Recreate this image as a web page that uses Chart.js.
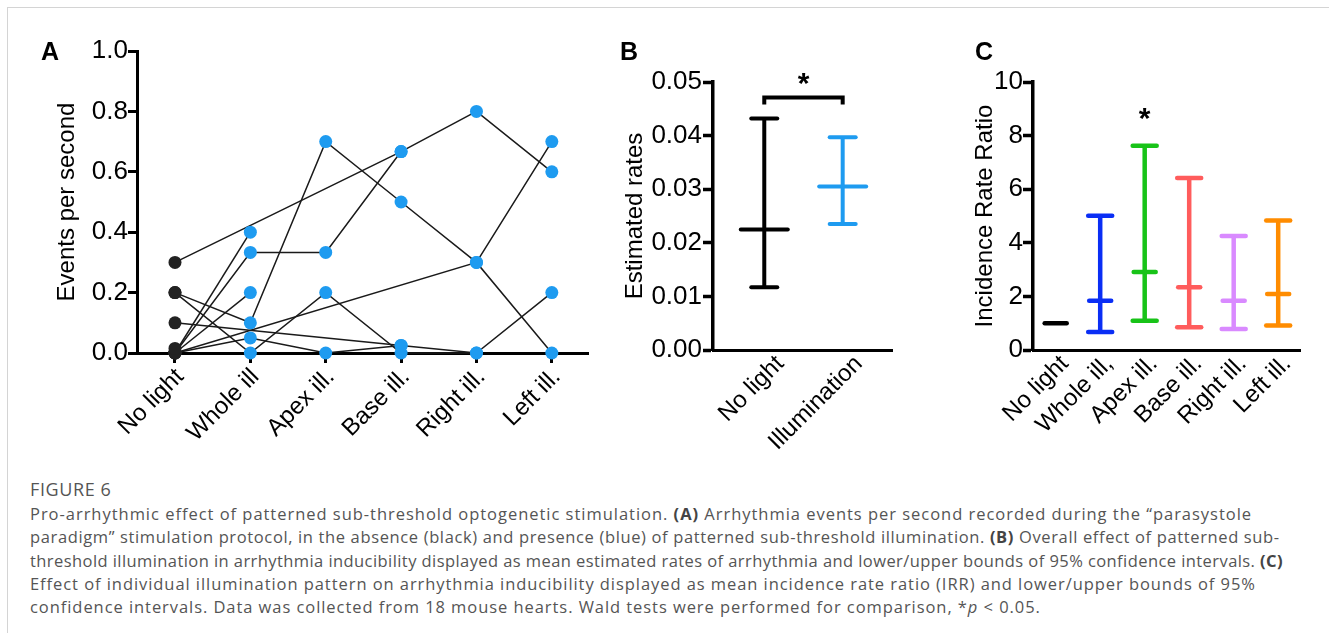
<!DOCTYPE html>
<html>
<head>
<meta charset="utf-8">
<script src="https://cdn.jsdelivr.net/npm/chart.js@4.4.1/dist/chart.umd.min.js"></script>
<style>
body { margin: 0; background: #fff; width: 1329px; height: 633px; overflow: hidden; position: relative; font-family: "Liberation Sans", Arial, sans-serif; }
.frame { position: absolute; left: 7px; top: 7px; right: 0; bottom: 0; border-left: 1px solid #d4d4d4; border-top: 1px solid #d4d4d4; }
canvas { position: absolute; top: 0; }
.letter { position: absolute; top: 37px; font-weight: bold; font-size: 25px; color: #000; }
.fig { position: absolute; left: 30px; top: 477px; font-family: "Open Sans", sans-serif; font-size: 18px; color: #555; letter-spacing: 0.6px; }
.cap { position: absolute; left: 30px; font-family: "Open Sans", sans-serif; font-size: 16.5px; color: #555; white-space: nowrap; }
.cap b { color: #444; }
</style>
</head>
<body>
<div class="frame"></div>
<canvas id="pa" width="620" height="450" style="left:0"></canvas>
<canvas id="pb" width="330" height="450" style="left:600px"></canvas>
<canvas id="pc" width="399" height="450" style="left:930px"></canvas>
<div class="letter" style="left:41px">A</div>
<div class="letter" style="left:620px">B</div>
<div class="letter" style="left:975px">C</div>

<div class="fig">FIGURE 6</div>
<div class="cap" data-w="1222" style="top:502px">Pro-arrhythmic effect of patterned sub-threshold optogenetic stimulation. <b>(A)</b> Arrhythmia events per second recorded during the “parasystole</div>
<div class="cap" data-w="1250" style="top:525px">paradigm” stimulation protocol, in the absence (black) and presence (blue) of patterned sub-threshold illumination. <b>(B)</b> Overall effect of patterned sub-</div>
<div class="cap" data-w="1253" style="top:549px">threshold illumination in arrhythmia inducibility displayed as mean estimated rates of arrhythmia and lower/upper bounds of 95% confidence intervals. <b>(C)</b></div>
<div class="cap" data-w="1226" style="top:572px">Effect of individual illumination pattern on arrhythmia inducibility displayed as mean incidence rate ratio (IRR) and lower/upper bounds of 95%</div>
<div class="cap" data-w="0" style="top:595px">confidence intervals. Data was collected from 18 mouse hearts. Wald tests were performed for comparison, *<i>p</i> &lt; 0.05.</div>

<script>
// panel A: events per second, one row per heart (null = pattern not shown for that heart)
const aCats = ['No light', 'Whole ill', 'Apex ill.', 'Base ill.', 'Right ill.', 'Left ill.'];
const aHearts = [
    [0.3, null, null, 0.667, 0.8, 0.6],
    [0, 0.333, 0.333, 0.667, null, null],
    [0.2, 0.1, 0.7, 0.5, 0.3, 0],
    [0, null, null, null, 0.3, 0.7],
    [0, 0.4, null, null, null, null],
    [0, 0.2, null, null, null, null],
    [0.2, 0, 0.2, 0, 0, null],
    [0.1, null, null, 0.025, null, null],
    [0, 0.05, 0, 0.025, 0, 0.2],
    [0.015, null, null, null, null, null]
];

// panel B: estimated rates, mean and 95% CI
const bCats = ['No light', 'Illumination'];
const bMean = [0.0225, 0.0305];
const bLow = [0.0117, 0.0235];
const bHigh = [0.0432, 0.0397];
const bColors = ['#000000', '#1E9BF0'];
const bBracket = 0.0471;
const bStars = [{ x: 0.5, y: 0.0502 }];

// panel C: incidence rate ratio, mean and 95% CI
const cCats = ['No light', 'Whole ill,', 'Apex ill.', 'Base ill.', 'Right ill.', 'Left ill.'];
const cMean = [1, 1.84, 2.91, 2.34, 1.84, 2.09];
const cLow = [null, 0.67, 1.09, 0.85, 0.78, 0.91];
const cHigh = [null, 5.01, 7.62, 6.42, 4.25, 4.83];
const cColors = ['#000000', '#0A2EF5', '#18C318', '#FF5C5C', '#D98AFF', '#FF8C00'];
const cStars = [{ x: 2, y: 8.73 }];

const FONT = '"Liberation Sans", Arial, sans-serif';
Chart.defaults.font.family = FONT;
Chart.defaults.color = '#000';

const starPlugin = {
    id: 'stars',
    beforeDatasetDraw(chart) {
        chart.ctx.lineCap = 'round';
    },
    afterDatasetsDraw(chart, args, opts) {
        if (!opts.marks) return;
        const ctx = chart.ctx;
        ctx.save();
        ctx.font = 'bold 30px ' + FONT;
        ctx.fillStyle = '#000';
        ctx.textAlign = 'center';
        ctx.textBaseline = 'alphabetic';
        opts.marks.forEach(m => {
            ctx.fillText('*', chart.scales.x.getPixelForValue(m.x), chart.scales.y.getPixelForValue(m.y) + 12);
        });
        ctx.restore();
    }
};

// x axis that shows category names on a linear scale
function catAxis(cats, min, max, height, tickLen, pad, shift) {
    return {
        type: 'linear', min: min, max: max,
        afterBuildTicks: s => { s.ticks = cats.map((c, i) => ({ value: i })); },
        afterFit: s => { s.height = height; },
        grid: { display: tickLen > 0, drawOnChartArea: false, drawTicks: tickLen > 0, tickLength: tickLen, tickWidth: 3, tickColor: '#000' },
        border: { display: true, color: '#000', width: 3 },
        ticks: { callback: v => cats[v], autoSkip: false, minRotation: 45, maxRotation: 45, color: '#000', font: { size: 24 }, padding: pad, labelOffset: shift }
    };
}

function valueAxis(min, max, step, digits, width, tickLen, pad, title, bw) {
    return {
        min: min, max: max,
        afterFit: s => { s.width = width; },
        grid: { drawOnChartArea: false, tickLength: tickLen, tickWidth: bw, tickColor: '#000' },
        border: { color: '#000', width: bw },
        ticks: { stepSize: step, callback: v => v.toFixed(digits), color: '#000', font: { size: 26 }, padding: pad },
        title: { display: true, text: title, color: '#000', font: { size: 24 }, padding: 0 }
    };
}

function errorBarSets(means, lows, highs, colors, capR, meanR, lw) {
    const sets = [];
    means.forEach((m, i) => {
        if (lows[i] !== null) {
            sets.push({
                data: [{ x: i, y: lows[i] }, { x: i, y: highs[i] }],
                showLine: true, borderColor: colors[i], borderWidth: lw, pointRadius: 0, clip: false
            });
            sets.push({
                data: [{ x: i, y: lows[i] }, { x: i, y: highs[i] }],
                pointStyle: 'line', pointRadius: capR, borderColor: colors[i], borderWidth: lw, clip: false
            });
        }
        sets.push({
            data: [{ x: i, y: m }],
            pointStyle: 'line', pointRadius: meanR, borderColor: colors[i], borderWidth: lw, clip: false
        });
    });
    return sets;
}

const baseOptions = {
    responsive: false, animation: false, devicePixelRatio: 1, events: [],
    plugins: { legend: { display: false }, tooltip: { enabled: false } }
};

// Panel A
const aLineSets = aHearts.map(h => ({
    data: h.map((v, i) => v === null ? null : { x: i, y: v }).filter(p => p),
    showLine: true, borderColor: '#1a1a1a', borderWidth: 1.5, pointRadius: 0, clip: false, order: 2
}));
const aBlack = {
    data: aHearts.map(h => ({ x: 0, y: h[0] })),
    pointRadius: 6.5, backgroundColor: '#222222', borderWidth: 0, clip: false, order: 0
};
const aBlue = {
    data: aHearts.flatMap(h => h.map((v, i) => (i > 0 && v !== null) ? { x: i, y: v } : null).filter(p => p)),
    pointRadius: 6.5, backgroundColor: '#1E9BF0', borderWidth: 0, clip: false, order: 1
};

new Chart(document.getElementById('pa'), {
    type: 'scatter',
    data: { datasets: [...aLineSets, aBlack, aBlue] },
    options: {
        ...baseOptions,
        layout: { padding: { left: 53, top: 51, right: 32, bottom: 0 } },
        scales: {
            x: catAxis(aCats, -0.504, 5.48, 97, 10, 0, 5),
            y: valueAxis(0, 1, 0.2, 1, 84, 9, 0, 'Events per second', 3)
        }
    },
    plugins: [starPlugin]
});

// Panel B
const bSets = errorBarSets(bMean, bLow, bHigh, bColors, 13, 23.5, 4);
bSets.push({
    data: [{ x: 0, y: bBracket - 0.0013 }, { x: 0, y: bBracket }, { x: 1, y: bBracket }, { x: 1, y: bBracket - 0.0013 }],
    showLine: true, borderColor: '#000', borderWidth: 4, pointRadius: 0, clip: false
});

new Chart(document.getElementById('pb'), {
    type: 'scatter',
    data: { datasets: bSets },
    options: {
        ...baseOptions,
        layout: { padding: { left: 21, top: 82, right: 38, bottom: 0 } },
        plugins: { ...baseOptions.plugins, stars: { marks: bStars } },
        scales: {
            x: catAxis(bCats, -0.654, 1.629, 100, 0, 0, 16),
            y: valueAxis(0, 0.05, 0.01, 2, 92, 10, 1, 'Estimated rates', 3.5)
        }
    },
    plugins: [starPlugin]
});

// Panel C
new Chart(document.getElementById('pc'), {
    type: 'scatter',
    data: { datasets: errorBarSets(cMean, cLow, cHigh, cColors, 12, 11, 4.5) },
    options: {
        ...baseOptions,
        layout: { padding: { left: 41, top: 82, right: 29, bottom: 0 } },
        plugins: { ...baseOptions.plugins, stars: { marks: cStars } },
        scales: {
            x: catAxis(cCats, -0.51, 5.49, 100, 0, 0, 9),
            y: valueAxis(0, 10, 2, 0, 62, 10, 0, 'Incidence Rate Ratio', 3.5)
        }
    },
    plugins: [starPlugin]
});

// stretch caption lines to the widths of the printed figure
let lastSpacing = 0;
document.querySelectorAll('.cap').forEach(el => {
    const target = +el.dataset.w;
    const n = el.textContent.length;
    if (target > 0) {
        lastSpacing = (target - el.scrollWidth) / n;
    }
    el.style.letterSpacing = lastSpacing.toFixed(3) + 'px';
});
</script>
</body>
</html>
